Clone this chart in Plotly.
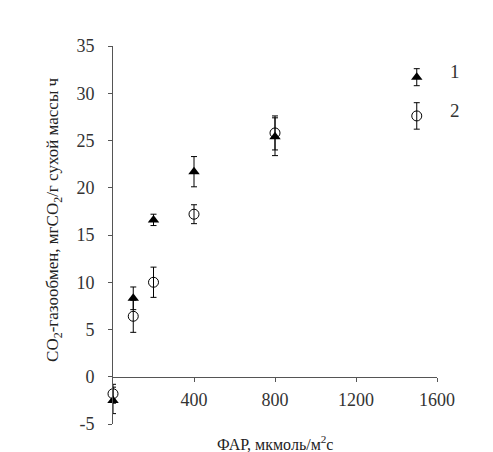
import plotly.graph_objects as go

# данные
far = [0, 100, 200, 400, 800, 1500]
series1 = [-2.5, 8.3, 16.6, 21.7, 25.4, 31.7]
err1 = [1.4, 1.2, 0.6, 1.6, 2.0, 0.9]
series2 = [-1.8, 6.4, 10.0, 17.2, 25.8, 27.6]
err2 = [1.0, 1.7, 1.6, 1.0, 1.8, 1.4]
series_labels = ["1", "2"]
y_ticks = list(range(-5, 40, 5))

font = "Liberation Serif, Times New Roman, serif"
fig = go.Figure()

fig.add_trace(go.Scatter(
    x=far, y=series2, mode="markers",
    marker=dict(symbol="circle-open", size=10, color="black", line=dict(width=1)),
    error_y=dict(type="data", array=err2, color="black", thickness=1, width=3),
    cliponaxis=False,
))
fig.add_trace(go.Scatter(
    x=far, y=series1, mode="markers",
    marker=dict(symbol="triangle-up", size=10, color="black"),
    error_y=dict(type="data", array=err1, color="black", thickness=1, width=3),
    cliponaxis=False,
))

# подписи серий справа от последних точек
for lab, yv in zip(series_labels, [series1[-1], series2[-1]]):
    fig.add_annotation(x=1.056, xref="paper", y=yv + 0.6, text=lab, showarrow=False,
                       xanchor="center", font=dict(family=font, size=19, color="#333"))

fig.add_annotation(
    x=-0.182, y=0.54, xref="paper", yref="paper", textangle=-90, showarrow=False,
    xanchor="center", yanchor="middle",
    text="CO<sub>2</sub>-газообмен, мгCO<sub>2</sub>/г сухой массы ч",
    font=dict(family=font, size=17, color="#222"),
)
fig.add_annotation(
    x=0.5, y=-0.05, xref="paper", yref="paper", showarrow=False,
    xanchor="center", yanchor="middle",
    text="ФАР, мкмоль/м<sup>2</sup>с",
    font=dict(family=font, size=16, color="#222"),
)

fig.update_layout(
    width=485, height=444,
    margin=dict(l=105, r=56, t=38, b=28),
    plot_bgcolor="white", paper_bgcolor="white",
    showlegend=False,
    font=dict(family=font, size=18, color="#333"),
)
fig.update_xaxes(
    range=[0, 1600], tickvals=[400, 800, 1200, 1600],
    showgrid=False, zeroline=False, showline=True, linecolor="#555",
    anchor="free", position=0.125,
    ticks="outside", ticklen=4, tickcolor="#555", ticklabelstandoff=3,
)
fig.update_yaxes(
    range=[-5, 35], tickvals=y_ticks, ticktext=[str(v) for v in y_ticks],
    showgrid=False, zeroline=False, showline=True, linecolor="#555",
    ticks="outside", ticklen=4, tickcolor="#555", ticklabelstandoff=10,
)

fig.write_html("out.html")
